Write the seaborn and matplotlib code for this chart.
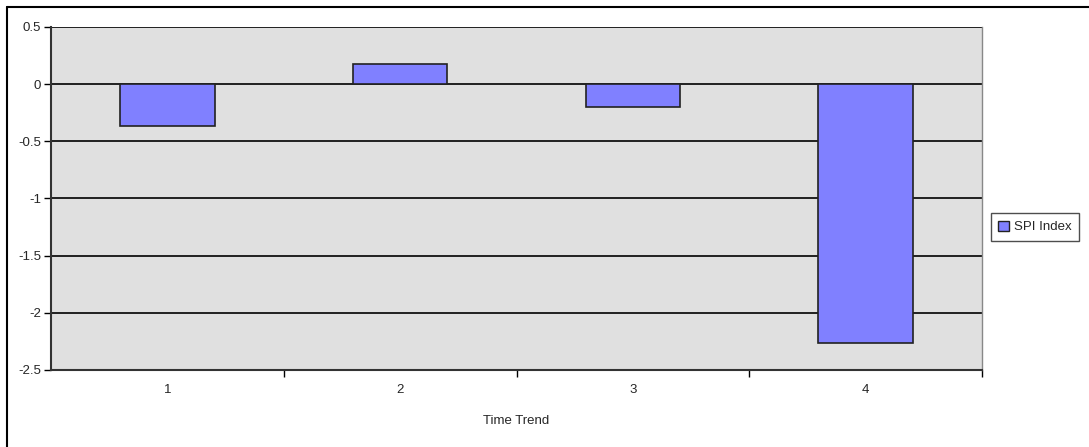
import matplotlib
matplotlib.use("Agg")
import matplotlib.pyplot as plt
import seaborn as sns
import pandas as pd
from matplotlib.lines import Line2D
from matplotlib.patches import Patch

categories = ["1", "2", "3", "4"]
spi_values = [-0.367, 0.175, -0.198, -2.266]
y_ticks = [0.5, 0, -0.5, -1, -1.5, -2, -2.5]
y_tick_labels = ["0.5", "0", "-0.5", "-1", "-1.5", "-2", "-2.5"]

sns.set_style("white")
plt.rcParams["font.family"] = ["Liberation Sans", "DejaVu Sans"]

df = pd.DataFrame({"Time Trend": categories, "SPI Index": spi_values})

fig = plt.figure(figsize=(10.89, 4.47), dpi=100)
ax = fig.add_axes([51/1089, 1-370/447, (982-51)/1089, (370-27)/447])
ax.set_facecolor("#E0E0E0")

sns.barplot(data=df, x="Time Trend", y="SPI Index", color="#8080FF",
            saturation=1, width=0.405, edgecolor="#222222", linewidth=1.2, ax=ax, zorder=3)

ax.set_ylim(-2.5, 0.5)
ax.set_xlim(-0.5, 3.5)
ax.set_yticks(y_ticks)
ax.set_yticklabels(y_tick_labels)
for y in y_ticks:
    ax.axhline(y, color="#000000", linewidth=1.2, zorder=1)

# x ticks: labels at centers, tick marks at category boundaries
ax.set_xticks(range(len(categories)))
ax.set_xticklabels(categories)
ax.tick_params(axis="x", length=0, pad=10, labelsize=9.5)
ax.set_xticks([0.5, 1.5, 2.5, 3.5], minor=True)
ax.tick_params(axis="x", which="minor", length=5, width=1, color="#000000", direction="out", bottom=True)
ax.tick_params(axis="y", length=5, width=1, color="#000000", direction="out", left=True, labelsize=9.5, pad=2)

for side in ["left", "bottom", "right"]:
    ax.spines[side].set_visible(True)
    ax.spines[side].set_color("#333333")
    ax.spines[side].set_linewidth(1.5)
ax.spines["top"].set_visible(False)
ax.spines["right"].set_color("#888888")
ax.spines["right"].set_linewidth(1)

ax.set_xlabel("Time Trend", fontsize=9.5, labelpad=14)
ax.set_ylabel("")

leg = ax.legend(handles=[Patch(facecolor="#8080FF", edgecolor="#222222", label="SPI Index")],
                loc="center left", bbox_to_anchor=(1.0055, 0.417), frameon=True, fontsize=9.5,
                handlelength=0.8, handleheight=0.8, borderpad=0.55, fancybox=False,
                handletextpad=0.4, borderaxespad=0.3)
leg.get_frame().set_edgecolor("#222222")
leg.get_frame().set_linewidth(1)

# outer chart border (top and left)
fig.add_artist(Line2D([7/1089, 1.0], [1-7/447, 1-7/447], transform=fig.transFigure, color="black", linewidth=1.5))
fig.add_artist(Line2D([7/1089, 7/1089], [0.0, 1-7/447], transform=fig.transFigure, color="black", linewidth=1.5))

fig.savefig("out.png", dpi=100, facecolor="white")
